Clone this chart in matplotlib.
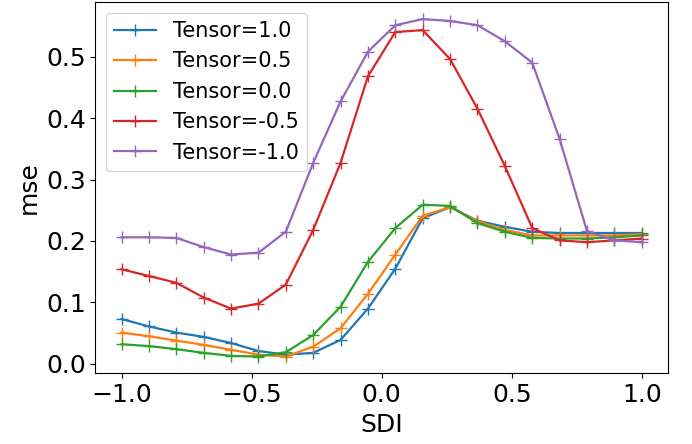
import numpy as np
import matplotlib
matplotlib.use("Agg")
import matplotlib.pyplot as plt

# SDI sweep, 20 evenly spaced points from -1 to 1
sdi = np.linspace(-1.0, 1.0, 20)

mse_t10 = [0.073, 0.061, 0.051, 0.044, 0.034, 0.021, 0.015, 0.018, 0.039, 0.090,
           0.155, 0.237, 0.255, 0.233, 0.223, 0.215, 0.213, 0.213, 0.213, 0.213]
mse_t05 = [0.051, 0.045, 0.038, 0.031, 0.023, 0.015, 0.012, 0.028, 0.058, 0.114,
           0.178, 0.241, 0.255, 0.232, 0.218, 0.209, 0.209, 0.209, 0.209, 0.211]
mse_t00 = [0.032, 0.029, 0.024, 0.018, 0.013, 0.012, 0.019, 0.047, 0.093, 0.166,
           0.221, 0.259, 0.257, 0.229, 0.215, 0.205, 0.204, 0.204, 0.206, 0.209]
mse_tm05 = [0.154, 0.143, 0.132, 0.108, 0.090, 0.098, 0.129, 0.218, 0.327, 0.468,
            0.540, 0.543, 0.496, 0.415, 0.322, 0.221, 0.201, 0.198, 0.201, 0.204]
mse_tm10 = [0.206, 0.206, 0.205, 0.190, 0.178, 0.181, 0.215, 0.327, 0.427, 0.508,
            0.551, 0.561, 0.558, 0.551, 0.525, 0.490, 0.366, 0.216, 0.201, 0.198]

series = [
    ("Tensor=1.0", mse_t10),
    ("Tensor=0.5", mse_t05),
    ("Tensor=0.0", mse_t00),
    ("Tensor=-0.5", mse_tm05),
    ("Tensor=-1.0", mse_tm10),
]

fig, ax = plt.subplots(figsize=(6.92, 4.44), dpi=100)
fig.subplots_adjust(left=0.138, right=0.965, bottom=0.159, top=0.995)

for label, vals in series:
    ax.plot(sdi, vals, marker='+', markersize=8, linewidth=1.6, label=label)

ax.set_xlabel('SDI', fontsize=18)
ax.set_ylabel('mse', fontsize=18)
ax.tick_params(labelsize=18)
ax.set_xticks([-1.0, -0.5, 0.0, 0.5, 1.0])
ax.set_yticks([0.0, 0.1, 0.2, 0.3, 0.4, 0.5])
ax.legend(loc='upper left', fontsize=15)

plt.savefig('out.png', dpi=100)
